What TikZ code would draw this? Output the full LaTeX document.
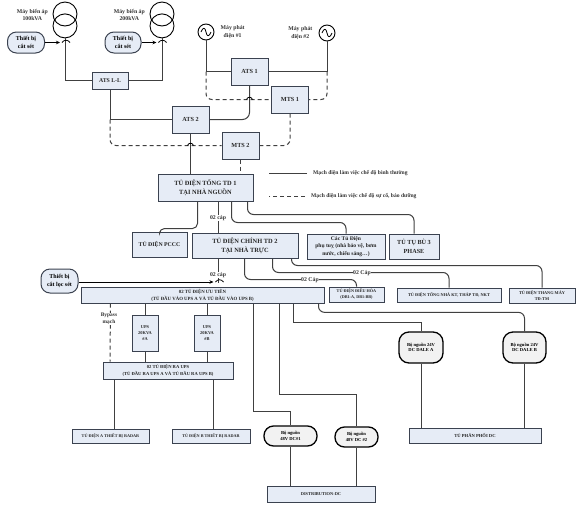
\documentclass[tikz,border=0pt]{standalone}
\usepackage{fontspec}
\setmainfont{Liberation Serif}
\usetikzlibrary{arrows.meta,positioning}
\definecolor{boxFill}{HTML}{E6ECF6}
\definecolor{boxLine}{HTML}{3B4250}
\definecolor{wireGray}{HTML}{404040}
\definecolor{psuFill}{HTML}{F2F2F2}

\begin{document}
\begin{tikzpicture}[
  x=1pt, y=-1pt,
  font=\bfseries,
  box/.style={
    rectangle, draw=boxLine, fill=boxFill, line width=1pt,
    align=center, inner sep=0pt, text=black!85
  },
  psu/.style={
    rectangle, rounded corners=9.5pt, draw=black, fill=psuFill, line width=1.3pt,
    align=center, inner sep=0pt, font=\bfseries\fontsize{4.6}{5.4}\selectfont
  },
  arrester/.style={
    rectangle, rounded corners=9pt, draw=boxLine, fill=boxFill, line width=1pt,
    align=center, inner sep=0pt, font=\bfseries\fontsize{6}{7.5}\selectfont
  },
  note/.style={align=center, inner sep=0pt, font=\bfseries\fontsize{5.8}{7.2}\selectfont, text=black!80},
  cable/.style={fill=white, inner sep=0.6pt, font=\bfseries\fontsize{5.8}{7}\selectfont, text=black!80},
  gen/.style={circle, draw=black, line width=0.9pt, minimum size=16pt, inner sep=0pt},
  coil/.style={circle, draw=black, line width=0.9pt, minimum size=24pt, inner sep=0pt},
  wire/.style={line width=1pt, draw=wireGray},
  spare/.style={wire, dash pattern=on 4pt off 3pt},
  hook/.style={line width=0.8pt, draw=black},
  feed/.style={-{Stealth[length=4pt,width=3.5pt]}, line width=1pt, draw=black}
]
\useasboundingbox (0,0) rectangle (576,504);

%  Transformers and generators
\node[coil] (t1a) at (65,14) {};
\node[coil, below=-13pt of t1a] (t1b) {};
\node[coil] (t2a) at (162,14) {};
\node[coil, below=-13pt of t2a] (t2b) {};
\node[gen] (gen1) at (206,32) {};
\node[gen] (gen2) at (327,33) {};
\draw[line width=0.8pt] ([xshift=-5pt]gen1.center) .. controls (203,27) and (205,27) .. (gen1.center) .. controls (207,37) and (209,37) .. ([xshift=5pt]gen1.center);
\draw[line width=0.8pt] ([xshift=-5pt]gen2.center) .. controls (324,28) and (326,28) .. (gen2.center) .. controls (328,38) and (330,38) .. ([xshift=5pt]gen2.center);

\node[note, left=17pt of t1a.center, yshift=-1pt] (lbl1) {Máy biến áp\\100kVA};
\node[note, left=17pt of t2a.center, yshift=-1pt] (lbl2) {Máy biến áp\\200kVA};
\node[note, right=6pt of gen1] (lbl3) {Máy phát\\điện \#1};
\node[note, left=6pt of gen2] (lbl4) {Máy phát\\điện \#2};

%  Lightning arresters
\node[arrester, minimum width=37pt, minimum height=21pt] (sa1) at (26,42.5) {Thiết bị\\cắt sét};
\node[arrester, minimum width=36pt, minimum height=21pt] (sa2) at (123,42.5) {Thiết bị\\cắt sét};
\node[arrester, minimum width=37pt, minimum height=24pt] (sa3) at (59.5,281) {Thiết bị\\cắt lọc sét};

%  Switching boxes
\node[box, minimum width=36pt, minimum height=17pt, font=\bfseries\fontsize{5.8}{7}\selectfont] (atsll) at (110,80.5) {ATS L-L};
\node[box, minimum width=37pt, minimum height=27pt, font=\bfseries\fontsize{6.2}{7}\selectfont] (ats1) at (249.5,71.5) {ATS 1};
\node[box, minimum width=37pt, minimum height=27pt, font=\bfseries\fontsize{6.2}{7}\selectfont] (ats2) at (190.5,119.5) {ATS 2};
\node[box, minimum width=37pt, minimum height=27pt, font=\bfseries\fontsize{6.2}{7}\selectfont] (mts1) at (290,99.5) {MTS 1};
\node[box, minimum width=37pt, minimum height=27pt, font=\bfseries\fontsize{6.2}{7}\selectfont] (mts2) at (240.5,145.5) {MTS 2};

%  Main boards
\node[box, minimum width=95pt, minimum height=27pt, font=\bfseries\fontsize{6.4}{9}\selectfont] (td1) at (205.5,187.5) {TỦ ĐIỆN TỔNG TD 1\\TẠI NHÀ NGUỒN};
\node[box, minimum width=55pt, minimum height=25pt, font=\bfseries\fontsize{5.8}{7}\selectfont] (pccc) at (159.5,244.5) {TỦ ĐIỆN PCCC};
\node[box, minimum width=106pt, minimum height=25pt, font=\bfseries\fontsize{6.4}{9}\selectfont] (td2) at (245,245.5) {TỦ ĐIỆN CHÍNH TD 2\\TẠI NHÀ TRỰC};
\node[box, minimum width=78pt, minimum height=25pt, font=\bfseries\fontsize{5.6}{7.6}\selectfont] (aux) at (346,246.5) {Các Tủ Điện\\phụ tuỵ (nhà bảo vệ, bơm\\nước, chiếu sáng…)};
\node[box, minimum width=50pt, minimum height=25pt, font=\bfseries\fontsize{6.2}{9}\selectfont] (comp) at (414,246.5) {TỦ TỤ BÙ 3\\PHASE};
\node[box, minimum width=55pt, minimum height=15pt, font=\bfseries\fontsize{4.2}{6}\selectfont] (hvac) at (356.5,294.5) {TỦ ĐIỆN ĐIỀU HÒA\\(DB1-A, DB1-BB)};
\node[box, minimum width=104pt, minimum height=14pt, font=\bfseries\fontsize{4.3}{6}\selectfont] (tech) at (449,295) {TỦ ĐIỆN TỔNG NHÀ KT, THÁP TĐ, NKT};
\node[box, minimum width=66pt, minimum height=15pt, font=\bfseries\fontsize{4.3}{6}\selectfont] (lift) at (542,295.5) {TỦ ĐIỆN THANG MÁY\\TĐ-TM};

%  UPS section
\node[box, minimum width=243pt, minimum height=16pt, font=\bfseries\fontsize{4.8}{7}\selectfont] (prio) at (202.5,295) {02 TỦ ĐIỆN ƯU TIÊN\\(TỦ ĐẦU VÀO UPS A VÀ TỦ ĐẦU VÀO UPS B)};
\node[box, minimum width=26pt, minimum height=36pt, font=\bfseries\fontsize{4.4}{6.4}\selectfont] (upsa) at (145,333) {UPS\\20KVA\\\#A};
\node[box, minimum width=26pt, minimum height=36pt, font=\bfseries\fontsize{4.4}{6.4}\selectfont] (upsb) at (207,333) {UPS\\20KVA\\\#B};
\node[box, minimum width=130pt, minimum height=17pt, font=\bfseries\fontsize{4.6}{6.4}\selectfont] (upsout) at (168,370.5) {02 TỦ ĐIỆN RA UPS\\(TỦ ĐẦU RA UPS A VÀ TỦ ĐẦU RA UPS B)};
\node[box, minimum width=77pt, minimum height=14pt, font=\bfseries\fontsize{4.2}{6}\selectfont] (radara) at (110.5,436) {TỦ ĐIỆN A THIẾT BỊ RADAR};
\node[box, minimum width=78pt, minimum height=14pt, font=\bfseries\fontsize{4.2}{6}\selectfont] (radarb) at (211,436) {TỦ ĐIỆN B THIẾT BỊ RADAR};

%  DC section
\node[psu, minimum width=53pt, minimum height=20pt] (dc1) at (290.5,436) {Bộ nguồn\\48V DC\#1};
\node[psu, minimum width=43pt, minimum height=20pt] (dc2) at (356.5,437) {Bộ nguồn\\48V DC \#2};
\node[psu, minimum width=44pt, minimum height=31pt, rounded corners=10pt] (dalea) at (421,347.5) {Bộ nguồn 24V\\DC DALE A};
\node[psu, minimum width=43pt, minimum height=31pt, rounded corners=10pt] (daleb) at (524.5,347.5) {Bộ nguồn 24V\\DC DALE B};
\node[box, minimum width=108pt, minimum height=16pt, font=\bfseries\fontsize{4.4}{6}\selectfont] (distdc) at (321,494) {DISTRIBUTION-DC};
\node[box, minimum width=132pt, minimum height=15pt, font=\bfseries\fontsize{4.6}{6}\selectfont] (dcpanel) at (475,435.5) {TỦ PHÂN PHỐI DC};

%  Medium voltage side
\draw[wire] (t1b.south) |- (atsll.west);
\draw[wire] (t2b.south) |- (atsll.east);
\draw[feed] (sa1.east) -- ++(15,0) coordinate (sw1);
\draw[feed] (sa2.east) -- ++(15,0) coordinate (sw2);
\draw[hook] (sw1) ++(2,0) .. controls +(2,-3) and +(-2,-3) .. +(8,0);
\draw[hook] (sw2) ++(2,0) .. controls +(2,-3) and +(-2,-3) .. +(8,0);

%  Normal supply
\draw[wire] (gen1.south) |- (ats1.west);
\draw[wire] (gen2.south) |- (ats1.east);
\draw[wire] (atsll.south) |- (ats2.west);
\draw[wire, rounded corners=7pt] (ats1.south) |- (ats2.east);
\draw[wire] (ats2.south) -- (ats2.south |- td1.north);

%  Standby supply
\draw[spare, rounded corners=6pt] (gen1.south |- ats1.west) |- (mts1.west);
\draw[spare, rounded corners=6pt] (gen2.south |- ats1.east) |- (mts1.east);
\draw[spare, rounded corners=6pt] (atsll.south |- ats2.west) |- (mts2.west);
\draw[spare, rounded corners=6pt] (mts1.south) |- (mts2.east);
\draw[spare] (mts2.south) -- (mts2.south |- td1.north);
\draw[hook] ([xshift=-3pt]ats1.south |- mts1.west) .. controls +(1,-3) and +(-1,-3) .. +(6,0);
\draw[hook] ([xshift=-3pt]ats2.south |- mts2.west) .. controls +(1,-3) and +(-1,-3) .. +(6,0);

%  Legend
\node[note, anchor=west, font=\bfseries\fontsize{5.6}{7}\selectfont] (lgd1) at (313,173) {Mạch điện làm việc chế độ bình thường};
\node[note, anchor=west, font=\bfseries\fontsize{5.6}{7}\selectfont] (lgd2) at (311,196) {Mạch điện làm việc chế độ sự cố, bảo dưỡng};
\draw[wire] ([xshift=-6pt]lgd1.west) -- ++(-38,0);
\draw[spare] ([xshift=-6pt]lgd2.west) -- ++(-36,0);

%  Outgoing feeders of TD 1
\draw[wire, rounded corners=5pt] ([xshift=40pt]td1.south west) -- ++(0,27) -| (pccc.north);
\draw[wire] ([xshift=-27pt]td2.north |- td1.south) -- ([xshift=-27pt]td2.north);
\draw[wire, rounded corners=6pt] ([xshift=74pt]td1.south west) |- ([yshift=11pt]aux.north) -- (aux.north);
\draw[wire, rounded corners=6pt] ([xshift=90pt]td1.south west) |- ([yshift=19pt]comp.north) -- (comp.north);
\node[cable] (cap1) at (218,218) {02 cáp};

%  Outgoing feeders of TD 2
\draw[wire] ([xshift=-27pt]td2.south) -- ++(0,24);
\node[cable] (cap2) at (218,275) {02 cáp};
\draw[wire, rounded corners=6pt] ([xshift=53pt]td2.south west) |- ([yshift=7pt]hvac.north) -- (hvac.north);
\draw[wire, rounded corners=6pt] ([xshift=81pt]td2.south west) |- ([yshift=15pt]tech.north) -- (tech.north);
\draw[wire, rounded corners=6pt] ([xshift=100pt]td2.south west) |- ([yshift=22pt]lift.north) -- (lift.north);
\node[cable] (cap3) at (310,280) {02 Cáp};
\node[cable] (cap4) at (362,273) {02 Cáp};

%  Filter arrester into the priority board
\draw[feed] ([yshift=-1pt]sa3.east) -- ++(135,0) coordinate (sw3);
\draw[hook] (sw3) ++(2,0) .. controls +(2,-3) and +(-2,-3) .. +(8,0);

%  Priority board to UPS and DC
\draw[spare] ([xshift=-92pt]prio.south) -- ([xshift=-58pt]upsout.north);
\draw[wire] (upsa.north) -- (upsa.north |- prio.south);
\draw[wire] (upsb.north) -- (upsb.north |- prio.south);
\draw[wire] (upsa.south) -- (upsa.south |- upsout.north);
\draw[wire] (upsb.south) -- (upsb.south |- upsout.north);
\node[note, fill=white, font=\bfseries\fontsize{5.4}{7}\selectfont] (bypass) at (109,319) {Bypass\\mạch};
\draw[wire] ([xshift=-54pt]upsout.south) -- ([xshift=3.5pt]radara.north);
\draw[wire] ([xshift=45pt]upsout.south) -- ([xshift=2pt]radarb.north);

\draw[wire] ([xshift=173pt]prio.south west) |- ([yshift=14pt]dc1.north) -- (dc1.north);
\draw[wire] ([xshift=199pt]prio.south west) |- ([yshift=32pt]dc2.north) -- (dc2.north);
\draw[wire] ([xshift=213pt]prio.south west) |- ([yshift=9pt]dalea.north) -- (dalea.north);
\draw[wire, rounded corners=6pt] ([xshift=238pt]prio.south west) |- ([yshift=19pt]daleb.north) -- (daleb.north);
\draw[wire] (dc1.south) -- (dc1.south |- distdc.north);
\draw[wire] (dc2.south) -- (dc2.south |- distdc.north);
\draw[wire] (dalea.south) -- (dalea.south |- dcpanel.north);
\draw[wire] (daleb.south) -- (daleb.south |- dcpanel.north);

\end{tikzpicture}
\end{document}
